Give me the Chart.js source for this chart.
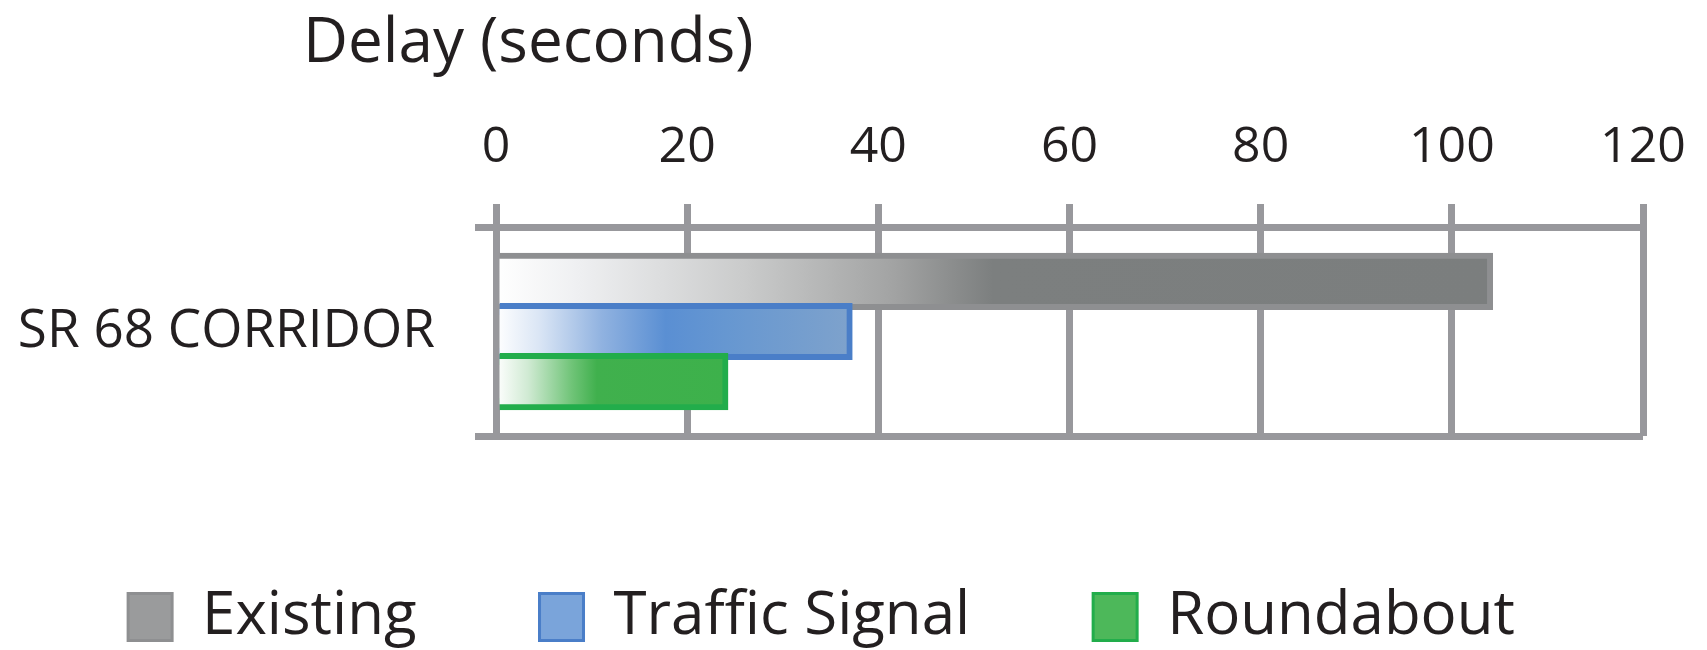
<!DOCTYPE html>
<html>
<head>
<meta charset="utf-8">
<title>Delay (seconds)</title>
<script src="https://cdn.jsdelivr.net/npm/chart.js@4.4.1/dist/chart.umd.min.js"></script>
<style>
  html, body { margin: 0; padding: 0; background: #ffffff; }
  #wrap { width: 1707px; height: 650px; position: relative; }
</style>
</head>
<body>
<div id="wrap"><canvas id="chart" width="1707" height="650"></canvas></div>
<script>
// ---- data ----
const categories = ['SR 68 CORRIDOR'];
const seriesNames = ['Existing', 'Traffic Signal', 'Roundabout'];
const existingDelay = [104];
const trafficSignalDelay = [37];
const roundaboutDelay = [24];
const xTickValues = [0, 20, 40, 60, 80, 100, 120];
const axisTitle = 'Delay (seconds)';

// ---- styling ----
const FONT = '"Open Sans", Lato, "DejaVu Sans", sans-serif';
const TEXT = '#231f20';
const GRID = '#98989c';

// horizontal gradient running from the zero line to the end of each bar
function barFill(stops, solid) {
  return (ctx) => {
    const chart = ctx.chart;
    const xs = chart.scales && chart.scales.x;
    if (!xs || !chart.chartArea || ctx.type !== 'data' || ctx.raw == null) return solid;
    const x0 = xs.getPixelForValue(0);
    const x1 = xs.getPixelForValue(ctx.raw);
    const g = chart.ctx.createLinearGradient(x0, 0, x1, 0);
    stops.forEach(([o, c]) => g.addColorStop(o, c));
    return g;
  };
}

const greyStops = [[0, '#ffffff'], [0.08, '#eff0f2'], [0.25, '#cacbcb'], [0.4, '#a2a3a3'], [0.46, '#8b8d8d'], [0.5, '#7c7f7f'], [1, '#7b7e7e']];
const blueStops = [[0, '#ffffff'], [0.12, '#dbe6f5'], [0.3, '#90b2e0'], [0.48, '#5a8fd3'], [0.65, '#6697d1'], [1, '#7ea2cc']];
const greenStops = [[0, '#ffffff'], [0.14, '#d0ead3'], [0.33, '#70c478'], [0.44, '#40b04d'], [1, '#3db14b']];

// bars are painted in dataset order so that each lower bar overlaps the one above it
const paintInOrder = {
  id: 'paintInOrder',
  beforeDatasetsDraw(chart) {
    chart.getSortedVisibleDatasetMetas().forEach(m => m.controller.draw());
    return false;
  }
};

// axis heading above the tick labels
const heading = {
  id: 'heading',
  afterDraw(chart, args, opts) {
    const c = chart.ctx;
    c.save();
    c.font = `${opts.size}px ${FONT}`;
    c.fillStyle = TEXT;
    c.textAlign = 'left';
    c.textBaseline = 'alphabetic';
    c.fillText(opts.text, opts.x, opts.y);
    c.restore();
  }
};

new Chart(document.getElementById('chart'), {
  type: 'bar',
  data: {
    labels: categories,
    datasets: [
      {
        label: seriesNames[0],
        data: existingDelay,
        backgroundColor: barFill(greyStops, '#8a8c8c'),
        borderColor: '#8e8f91',
        legendFill: '#9a9b9c'
      },
      {
        label: seriesNames[1],
        data: trafficSignalDelay,
        backgroundColor: barFill(blueStops, '#5a8fd3'),
        borderColor: '#4a7ec8',
        legendFill: '#7aa4da'
      },
      {
        label: seriesNames[2],
        data: roundaboutDelay,
        backgroundColor: barFill(greenStops, '#3db14b'),
        borderColor: '#22ad4b',
        legendFill: '#4db85a'
      }
    ]
  },
  options: {
    indexAxis: 'y',
    responsive: false,
    animation: false,
    devicePixelRatio: 1,
    categoryPercentage: 0.72,
    barPercentage: 1.02,
    elements: { bar: { borderWidth: 6, inflateAmount: 3 } },
    layout: { padding: { top: 92, left: 0, right: 64, bottom: -7 } },
    scales: {
      x: {
        type: 'linear',
        position: 'top',
        min: 0,
        max: 120,
        afterBuildTicks: (scale) => { scale.ticks = xTickValues.map(v => ({ value: v })); },
        afterFit: (scale) => { scale.paddingRight = 30; scale.paddingLeft = 0; },
        grid: { color: GRID, lineWidth: 7, tickLength: 23, drawTicks: true },
        border: { display: false },
        ticks: { padding: 26, color: TEXT, font: { family: FONT, size: 50 } }
      },
      spacer: {
        type: 'linear',
        position: 'bottom',
        display: true,
        grid: { display: false },
        border: { display: false },
        ticks: { display: false },
        afterFit: (scale) => { scale.height = 28; }
      },
      y: {
        type: 'category',
        offset: true,
        grid: { color: GRID, lineWidth: 7, offset: true, tickLength: 21, drawTicks: true },
        border: { display: false },
        ticks: { padding: 40, color: TEXT, font: { family: FONT, size: 53 } },
        afterFit: (scale) => { scale.width = 496; }
      }
    },
    plugins: {
      heading: { text: axisTitle, x: 303, y: 62, size: 62 },
      tooltip: { enabled: false },
      legend: {
        position: 'bottom',
        labels: {
          color: TEXT,
          font: { family: FONT, size: 60 },
          boxWidth: 44,
          boxHeight: 47,
          padding: 123,
          generateLabels: (chart) => {
            const items = Chart.defaults.plugins.legend.labels.generateLabels(chart);
            items.forEach(it => {
              const ds = chart.data.datasets[it.datasetIndex];
              it.fillStyle = ds.legendFill;
              it.lineWidth = 3;
            });
            return items;
          }
        }
      }
    }
  },
  plugins: [paintInOrder, heading]
});
</script>
</body>
</html>
